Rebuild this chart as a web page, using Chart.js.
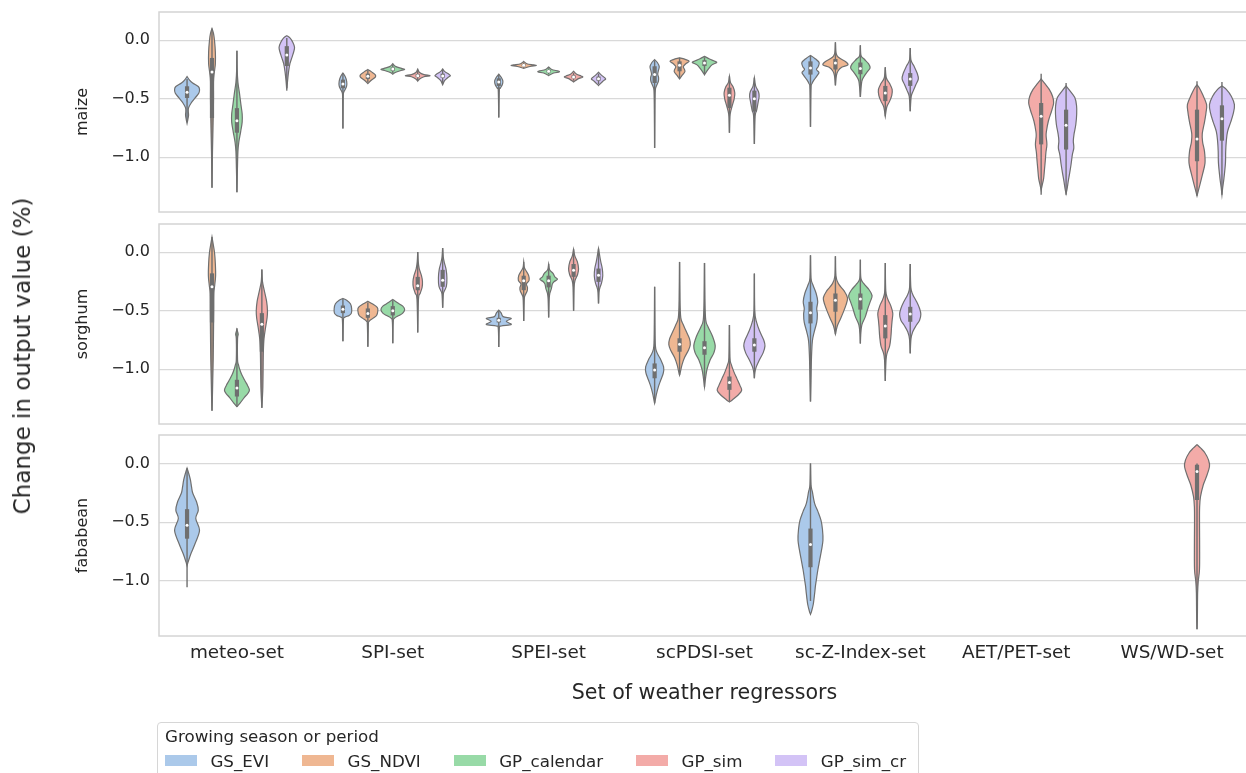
<!DOCTYPE html>
<html>
<head>
<meta charset="utf-8">
<script src="https://cdn.jsdelivr.net/npm/chart.js@4.4.1/dist/chart.umd.min.js"></script>
<style>
  html, body { margin: 0; padding: 0; background: #fff; }
  #page { position: relative; width: 1246px; height: 773px; overflow: hidden; font-family: "DejaVu Sans", sans-serif; color: #262626; }
  #page canvas { position: absolute; left: 0; }
  #ytitle { position: absolute; left: 22px; top: 356px; transform: translate(-50%, -50%) rotate(-90deg); font-size: 23px; white-space: nowrap; }
  #legend { position: absolute; left: 157px; top: 722px; width: 762px; height: 70px; border: 1px solid #d6d6d6; border-radius: 4px; box-sizing: border-box; font-size: 16.7px; }
  #legend .ltitle { position: absolute; left: 7px; top: 3px; line-height: 20px; white-space: nowrap; }
  #legend .lrow { position: absolute; left: 7px; top: 27.7px; display: flex; align-items: center; line-height: 20px; white-space: nowrap; }
  #legend .item { display: flex; align-items: center; margin-right: 33px; }
  #legend .sw { width: 32px; height: 11px; margin-right: 13.4px; }
</style>
</head>
<body>
<div id="page">
  <canvas id="maize" width="1252" height="214" style="top:0px"></canvas>
  <canvas id="sorghum" width="1252" height="212" style="top:214px"></canvas>
  <canvas id="fababean" width="1252" height="300" style="top:426px"></canvas>
  <div id="ytitle">Change in output value (%)</div>
  <div id="legend">
    <div class="ltitle">Growing season or period</div>
    <div class="lrow" id="lrow"></div>
  </div>
</div>
<script>
const sets = ['meteo-set', 'SPI-set', 'SPEI-set', 'scPDSI-set', 'sc-Z-Index-set', 'AET/PET-set', 'WS/WD-set'];
const periods = ['GS_EVI', 'GS_NDVI', 'GP_calendar', 'GP_sim', 'GP_sim_cr'];
const colors = ['#abc9ea', '#efb792', '#98daa7', '#f3aba8', '#d3c3f6'];
const yTicks = [0, -0.5, -1.0];
const yMin = -1.468, yMax = 0.242;

// [set, period, [whisker low, q1, median, q3, whisker high], outline [value, relative half width] top -> bottom]
const maizeViolins = [
  ['meteo-set', 'GS_EVI', [-0.70, -0.493, -0.445, -0.393, -0.33], [[-0.31,0],[-0.34,0.2],[-0.365,0.45],[-0.395,0.9],[-0.42,1.0],[-0.45,0.95],[-0.493,0.65],[-0.536,0.33],[-0.578,0.12],[-0.61,0.1],[-0.64,0.12],[-0.68,0.06],[-0.71,0]]],
  ['meteo-set', 'GS_NDVI', [-1.26, -0.664, -0.27, -0.151, 0.1], [[0.1,0],[0.06,0.12],[0.0,0.2],[-0.1,0.27],[-0.2,0.27],[-0.28,0.18],[-0.35,0.12],[-0.5,0.12],[-0.65,0.1],[-0.8,0.07],[-0.95,0.04],[-1.1,0.02],[-1.26,0]]],
  ['meteo-set', 'GP_calendar', [-1.3, -0.79, -0.687, -0.58, -0.09], [[-0.09,0],[-0.25,0.02],[-0.36,0.08],[-0.45,0.2],[-0.55,0.32],[-0.63,0.42],[-0.7,0.42],[-0.78,0.3],[-0.87,0.15],[-0.95,0.08],[-1.1,0.04],[-1.3,0]]],
  ['meteo-set', 'GP_sim_cr', [-0.41, -0.22, -0.125, -0.05, 0.02], [[0.04,0],[0.02,0.25],[-0.02,0.5],[-0.06,0.62],[-0.1,0.55],[-0.15,0.4],[-0.2,0.25],[-0.27,0.14],[-0.35,0.06],[-0.43,0]]],
  ['SPI-set', 'GS_EVI', [-0.755, -0.41, -0.373, -0.336, -0.28], [[-0.28,0],[-0.31,0.18],[-0.35,0.3],[-0.39,0.3],[-0.42,0.18],[-0.45,0.05],[-0.5,0.02],[-0.755,0]]],
  ['SPI-set', 'GS_NDVI', [-0.36, -0.33, -0.308, -0.285, -0.255], [[-0.25,0],[-0.27,0.3],[-0.295,0.6],[-0.315,0.6],[-0.34,0.3],[-0.37,0]]],
  ['SPI-set', 'GP_calendar', [-0.28, -0.26, -0.245, -0.232, -0.21], [[-0.2,0],[-0.225,0.25],[-0.24,0.7],[-0.25,0.95],[-0.26,0.6],[-0.275,0.2],[-0.29,0]]],
  ['SPI-set', 'GP_sim', [-0.34, -0.315, -0.302, -0.29, -0.26], [[-0.245,0],[-0.275,0.15],[-0.293,0.5],[-0.302,1.0],[-0.312,0.5],[-0.33,0.15],[-0.35,0]]],
  ['SPI-set', 'GP_sim_cr', [-0.37, -0.32, -0.305, -0.285, -0.25], [[-0.245,0],[-0.27,0.2],[-0.29,0.5],[-0.303,0.62],[-0.32,0.4],[-0.345,0.15],[-0.38,0]]],
  ['SPEI-set', 'GS_EVI', [-0.66, -0.39, -0.356, -0.325, -0.29], [[-0.29,0],[-0.32,0.22],[-0.35,0.33],[-0.38,0.28],[-0.41,0.12],[-0.43,0.04],[-0.66,0]]],
  ['SPEI-set', 'GS_NDVI', [-0.235, -0.222, -0.214, -0.205, -0.19], [[-0.18,0],[-0.2,0.25],[-0.21,0.8],[-0.216,1.0],[-0.224,0.5],[-0.24,0]]],
  ['SPEI-set', 'GP_calendar', [-0.29, -0.275, -0.265, -0.255, -0.24], [[-0.228,0],[-0.25,0.25],[-0.262,0.75],[-0.27,0.85],[-0.28,0.4],[-0.302,0]]],
  ['SPEI-set', 'GP_sim', [-0.345, -0.325, -0.313, -0.3, -0.28], [[-0.265,0],[-0.29,0.25],[-0.305,0.6],[-0.315,0.73],[-0.33,0.35],[-0.356,0]]],
  ['SPEI-set', 'GP_sim_cr', [-0.375, -0.345, -0.328, -0.31, -0.285], [[-0.273,0],[-0.3,0.25],[-0.32,0.5],[-0.332,0.57],[-0.35,0.35],[-0.387,0]]],
  ['scPDSI-set', 'GS_EVI', [-0.92, -0.365, -0.293, -0.222, -0.17], [[-0.165,0],[-0.19,0.22],[-0.225,0.37],[-0.26,0.3],[-0.29,0.25],[-0.32,0.32],[-0.35,0.3],[-0.39,0.15],[-0.43,0.05],[-0.6,0.02],[-0.92,0]]],
  ['scPDSI-set', 'GS_NDVI', [-0.33, -0.265, -0.214, -0.18, -0.15], [[-0.15,0],[-0.165,0.5],[-0.18,0.77],[-0.2,0.5],[-0.225,0.3],[-0.25,0.4],[-0.27,0.42],[-0.3,0.2],[-0.33,0]]],
  ['scPDSI-set', 'GP_calendar', [-0.29, -0.22, -0.194, -0.17, -0.145], [[-0.137,0],[-0.16,0.4],[-0.18,0.85],[-0.19,0.97],[-0.21,0.6],[-0.24,0.35],[-0.27,0.15],[-0.295,0]]],
  ['scPDSI-set', 'GP_sim', [-0.79, -0.58, -0.47, -0.405, -0.308], [[-0.308,0],[-0.36,0.08],[-0.4,0.3],[-0.45,0.43],[-0.5,0.38],[-0.55,0.25],[-0.6,0.12],[-0.65,0.04],[-0.79,0]]],
  ['scPDSI-set', 'GP_sim_cr', [-0.886, -0.61, -0.5, -0.43, -0.32], [[-0.32,0],[-0.39,0.1],[-0.44,0.33],[-0.48,0.38],[-0.53,0.3],[-0.6,0.18],[-0.65,0.06],[-0.886,0]]],
  ['sc-Z-Index-set', 'GS_EVI', [-0.74, -0.293, -0.236, -0.18, -0.13], [[-0.13,0],[-0.155,0.35],[-0.19,0.69],[-0.225,0.62],[-0.25,0.48],[-0.275,0.68],[-0.3,0.55],[-0.336,0.3],[-0.37,0.12],[-0.42,0.04],[-0.74,0]]],
  ['sc-Z-Index-set', 'GS_NDVI', [-0.385, -0.25, -0.194, -0.16, -0.017], [[-0.017,0],[-0.1,0.04],[-0.135,0.15],[-0.16,0.45],[-0.185,0.85],[-0.21,1.0],[-0.23,0.5],[-0.26,0.22],[-0.3,0.08],[-0.385,0]]],
  ['sc-Z-Index-set', 'GP_calendar', [-0.484, -0.29, -0.242, -0.19, -0.043], [[-0.043,0],[-0.13,0.05],[-0.16,0.3],[-0.2,0.65],[-0.235,0.78],[-0.27,0.55],[-0.3,0.35],[-0.35,0.12],[-0.484,0]]],
  ['sc-Z-Index-set', 'GP_sim', [-0.65, -0.52, -0.45, -0.39, -0.23], [[-0.23,0],[-0.32,0.08],[-0.37,0.35],[-0.42,0.55],[-0.47,0.52],[-0.52,0.35],[-0.57,0.12],[-0.65,0]]],
  ['sc-Z-Index-set', 'GP_sim_cr', [-0.607, -0.39, -0.33, -0.28, -0.066], [[-0.066,0],[-0.17,0.06],[-0.22,0.3],[-0.28,0.55],[-0.33,0.65],[-0.38,0.45],[-0.43,0.25],[-0.48,0.08],[-0.607,0]]],
  ['AET/PET-set', 'GP_sim', [-1.32, -0.89, -0.65, -0.536, -0.285], [[-0.33,0],[-0.37,0.3],[-0.42,0.65],[-0.48,0.92],[-0.536,1.0],[-0.6,0.85],[-0.69,0.58],[-0.78,0.42],[-0.82,0.4],[-0.89,0.46],[-0.96,0.38],[-1.03,0.33],[-1.1,0.27],[-1.18,0.2],[-1.24,0.08],[-1.28,0]]],
  ['AET/PET-set', 'GP_sim_cr', [-1.32, -0.934, -0.726, -0.593, -0.365], [[-0.39,0],[-0.43,0.3],[-0.49,0.7],[-0.56,0.84],[-0.63,0.85],[-0.72,0.78],[-0.8,0.64],[-0.86,0.58],[-0.92,0.62],[-0.98,0.5],[-1.06,0.4],[-1.14,0.28],[-1.2,0.18],[-1.27,0.08],[-1.31,0]]],
  ['WS/WD-set', 'GP_sim', [-1.33, -1.034, -0.843, -0.593, -0.35], [[-0.38,0],[-0.41,0.2],[-0.464,0.45],[-0.55,0.77],[-0.62,0.72],[-0.7,0.6],[-0.8,0.42],[-0.87,0.45],[-0.95,0.6],[-1.05,0.64],[-1.15,0.43],[-1.26,0.17],[-1.33,0]]],
  ['WS/WD-set', 'GP_sim_cr', [-1.32, -0.858, -0.67, -0.556, -0.356], [[-0.39,0],[-0.42,0.35],[-0.48,0.76],[-0.55,1.0],[-0.62,0.92],[-0.7,0.7],[-0.78,0.45],[-0.86,0.35],[-0.95,0.3],[-1.05,0.28],[-1.18,0.16],[-1.26,0.06],[-1.32,0]]]
];

const sorghumViolins = [
  ['meteo-set', 'GS_NDVI', [-1.355, -0.6, -0.295, -0.18, 0.13], [[0.13,0],[0.08,0.08],[0.0,0.2],[-0.1,0.27],[-0.2,0.29],[-0.28,0.22],[-0.35,0.15],[-0.5,0.14],[-0.7,0.12],[-0.9,0.1],[-1.1,0.06],[-1.25,0.03],[-1.355,0]]],
  ['meteo-set', 'GP_calendar', [-1.318, -1.233, -1.16, -1.09, -0.65], [[-0.66,0],[-0.7,0.1],[-0.74,0.05],[-0.92,0.05],[-0.96,0.12],[-1.0,0.22],[-1.05,0.4],[-1.1,0.65],[-1.14,0.86],[-1.18,1.0],[-1.21,0.85],[-1.24,0.6],[-1.29,0.25],[-1.32,0]]],
  ['meteo-set', 'GP_sim', [-1.33, -0.85, -0.616, -0.52, -0.148], [[-0.148,0],[-0.25,0.05],[-0.33,0.2],[-0.42,0.38],[-0.5,0.45],[-0.56,0.42],[-0.64,0.3],[-0.74,0.17],[-0.85,0.12],[-1.0,0.1],[-1.15,0.08],[-1.25,0.04],[-1.33,0]]],
  ['SPI-set', 'GS_EVI', [-0.76, -0.52, -0.486, -0.455, -0.4], [[-0.395,0],[-0.41,0.3],[-0.44,0.6],[-0.48,0.7],[-0.52,0.68],[-0.54,0.5],[-0.555,0.15],[-0.58,0.04],[-0.76,0]]],
  ['SPI-set', 'GS_NDVI', [-0.807, -0.56, -0.523, -0.48, -0.43], [[-0.418,0],[-0.44,0.35],[-0.47,0.75],[-0.5,0.8],[-0.54,0.7],[-0.565,0.4],[-0.59,0.1],[-0.62,0.04],[-0.807,0]]],
  ['SPI-set', 'GP_calendar', [-0.778, -0.54, -0.5, -0.46, -0.41], [[-0.403,0],[-0.43,0.35],[-0.46,0.8],[-0.49,0.95],[-0.52,0.8],[-0.54,0.5],[-0.565,0.12],[-0.6,0.03],[-0.778,0]]],
  ['SPI-set', 'GP_sim', [-0.685, -0.325, -0.287, -0.21, 0.003], [[0.003,0],[-0.08,0.04],[-0.14,0.12],[-0.2,0.3],[-0.25,0.38],[-0.3,0.35],[-0.35,0.2],[-0.4,0.06],[-0.685,0]]],
  ['SPI-set', 'GP_sim_cr', [-0.474, -0.295, -0.239, -0.15, 0.037], [[0.037,0],[-0.04,0.05],[-0.09,0.14],[-0.15,0.28],[-0.22,0.34],[-0.29,0.3],[-0.33,0.14],[-0.36,0.05],[-0.474,0]]],
  ['SPEI-set', 'GS_EVI', [-0.81, -0.6, -0.58, -0.56, -0.5], [[-0.494,0],[-0.52,0.2],[-0.55,0.35],[-0.565,1.0],[-0.59,0.6],[-0.617,1.0],[-0.63,0.2],[-0.65,0.04],[-0.81,0]]],
  ['SPEI-set', 'GS_NDVI', [-0.588, -0.324, -0.244, -0.2, -0.082], [[-0.082,0],[-0.13,0.05],[-0.16,0.2],[-0.2,0.4],[-0.24,0.43],[-0.27,0.22],[-0.3,0.3],[-0.33,0.28],[-0.37,0.1],[-0.41,0.04],[-0.588,0]]],
  ['SPEI-set', 'GP_calendar', [-0.557, -0.3, -0.244, -0.2, -0.1], [[-0.1,0],[-0.15,0.08],[-0.18,0.35],[-0.21,0.5],[-0.23,0.71],[-0.25,0.45],[-0.27,0.3],[-0.31,0.22],[-0.35,0.1],[-0.4,0.04],[-0.557,0]]],
  ['SPEI-set', 'GP_sim', [-0.5, -0.21, -0.153, -0.1, 0.026], [[0.026,0],[-0.03,0.1],[-0.08,0.3],[-0.14,0.4],[-0.19,0.32],[-0.24,0.12],[-0.3,0.04],[-0.5,0]]],
  ['SPEI-set', 'GP_sim_cr', [-0.437, -0.253, -0.196, -0.139, 0.031], [[0.031,0],[-0.02,0.08],[-0.08,0.18],[-0.14,0.3],[-0.2,0.34],[-0.26,0.25],[-0.3,0.12],[-0.34,0.04],[-0.437,0]]],
  ['scPDSI-set', 'GS_EVI', [-1.29, -1.077, -1.006, -0.95, -0.295], [[-0.295,0],[-0.6,0.02],[-0.8,0.06],[-0.86,0.2],[-0.92,0.5],[-0.98,0.72],[-1.03,0.7],[-1.09,0.5],[-1.15,0.3],[-1.21,0.15],[-1.27,0.04],[-1.29,0]]],
  ['scPDSI-set', 'GS_NDVI', [-1.05, -0.85, -0.787, -0.735, -0.082], [[-0.082,0],[-0.4,0.03],[-0.56,0.1],[-0.62,0.3],[-0.68,0.55],[-0.74,0.8],[-0.79,0.86],[-0.84,0.7],[-0.9,0.4],[-0.96,0.2],[-1.02,0.07],[-1.05,0]]],
  ['scPDSI-set', 'GP_calendar', [-1.15, -0.876, -0.815, -0.76, -0.091], [[-0.091,0],[-0.4,0.03],[-0.58,0.1],[-0.64,0.3],[-0.72,0.65],[-0.8,0.86],[-0.86,0.75],[-0.92,0.45],[-1.0,0.2],[-1.08,0.08],[-1.15,0]]],
  ['scPDSI-set', 'GP_sim', [-1.276, -1.176, -1.114, -1.062, -0.622], [[-0.622,0],[-0.9,0.04],[-0.96,0.15],[-1.02,0.35],[-1.08,0.6],[-1.14,0.85],[-1.18,0.98],[-1.22,0.7],[-1.26,0.25],[-1.28,0]]],
  ['scPDSI-set', 'GP_sim_cr', [-1.077, -0.85, -0.793, -0.735, -0.182], [[-0.182,0],[-0.5,0.03],[-0.6,0.18],[-0.68,0.45],[-0.75,0.75],[-0.8,0.85],[-0.86,0.7],[-0.92,0.4],[-0.98,0.15],[-1.03,0.04],[-1.077,0]]],
  ['sc-Z-Index-set', 'GS_EVI', [-1.276, -0.608, -0.517, -0.423, -0.026], [[-0.026,0],[-0.22,0.04],[-0.28,0.2],[-0.35,0.45],[-0.42,0.58],[-0.48,0.5],[-0.53,0.55],[-0.6,0.5],[-0.68,0.3],[-0.76,0.15],[-0.9,0.08],[-1.1,0.04],[-1.276,0]]],
  ['sc-Z-Index-set', 'GS_NDVI', [-0.7, -0.508, -0.41, -0.352, -0.034], [[-0.034,0],[-0.2,0.04],[-0.27,0.25],[-0.33,0.7],[-0.39,0.97],[-0.45,0.85],[-0.52,0.6],[-0.57,0.4],[-0.63,0.15],[-0.7,0]]],
  ['sc-Z-Index-set', 'GP_calendar', [-0.78, -0.49, -0.4, -0.352, -0.063], [[-0.063,0],[-0.22,0.04],[-0.27,0.3],[-0.32,0.7],[-0.37,0.94],[-0.42,0.8],[-0.48,0.6],[-0.55,0.4],[-0.62,0.12],[-0.7,0.03],[-0.78,0]]],
  ['sc-Z-Index-set', 'GP_sim', [-1.1, -0.736, -0.63, -0.537, -0.091], [[-0.091,0],[-0.33,0.04],[-0.4,0.2],[-0.46,0.45],[-0.52,0.6],[-0.58,0.55],[-0.64,0.5],[-0.72,0.45],[-0.8,0.35],[-0.86,0.15],[-0.92,0.06],[-1.1,0]]],
  ['sc-Z-Index-set', 'GP_sim_cr', [-0.864, -0.594, -0.528, -0.466, -0.1], [[-0.1,0],[-0.3,0.05],[-0.36,0.2],[-0.42,0.5],[-0.48,0.75],[-0.53,0.85],[-0.58,0.75],[-0.63,0.45],[-0.68,0.2],[-0.74,0.06],[-0.864,0]]]
];

const fababeanViolins = [
  ['meteo-set', 'GS_EVI', [-1.054, -0.64, -0.526, -0.389, -0.04], [[-0.04,0],[-0.08,0.12],[-0.14,0.27],[-0.2,0.36],[-0.254,0.46],[-0.326,0.76],[-0.397,0.9],[-0.469,0.7],[-0.569,1.0],[-0.683,0.64],[-0.77,0.3],[-0.84,0.08],[-0.87,0]]],
  ['sc-Z-Index-set', 'GS_EVI', [-1.17, -0.883, -0.69, -0.554, 0.0], [[0.0,0],[-0.18,0.04],[-0.24,0.15],[-0.34,0.33],[-0.41,0.6],[-0.483,0.84],[-0.56,0.96],[-0.654,1.0],[-0.74,0.88],[-0.826,0.73],[-0.9,0.6],[-0.969,0.5],[-1.04,0.4],[-1.11,0.33],[-1.2,0.22],[-1.26,0.08],[-1.283,0]]],
  ['WS/WD-set', 'GP_sim', [-1.41, -0.311, -0.069, -0.011, 0.0], [[0.16,0],[0.13,0.3],[0.089,0.64],[0.03,0.92],[-0.026,1.0],[-0.111,0.76],[-0.183,0.5],[-0.283,0.28],[-0.37,0.21],[-0.5,0.2],[-0.7,0.21],[-0.9,0.2],[-1.0,0.1],[-1.1,0.05],[-1.3,0.03],[-1.41,0]]]
];

const gray = '#6f6f6f';
const gridColor = '#d9d9d9';

// smooth curve through points (catmull-rom)
function curveThrough(ctx, p) {
  for (let i = 0; i < p.length - 1; i++) {
    const p0 = p[Math.max(i - 1, 0)], p1 = p[i], p2 = p[i + 1], p3 = p[Math.min(i + 2, p.length - 1)];
    ctx.bezierCurveTo(
      p1[0] + (p2[0] - p0[0]) / 6, p1[1] + (p2[1] - p0[1]) / 6,
      p2[0] - (p3[0] - p1[0]) / 6, p2[1] - (p3[1] - p1[1]) / 6,
      p2[0], p2[1]);
  }
}

function violinPlugin(rows) {
  return {
    id: 'violins',
    beforeDatasetsDraw(chart) {
      const a = chart.chartArea, ctx = chart.ctx;
      ctx.save();
      ctx.strokeStyle = '#d4d4d4';
      ctx.lineWidth = 1.5;
      ctx.strokeRect(a.left, a.top, a.right - a.left, a.bottom - a.top);
      ctx.restore();
    },
    afterDatasetsDraw(chart) {
      const ctx = chart.ctx, y = chart.scales.y;
      ctx.save();
      rows.forEach(r => {
        const g = periods.indexOf(r[1]);
        const bar = chart.getDatasetMeta(g).data[sets.indexOf(r[0])];
        const cx = bar.x, half = bar.width / 2;
        const right = r[3].map(([v, w]) => [cx + w * half, y.getPixelForValue(v)]);
        const left = r[3].map(([v, w]) => [cx - w * half, y.getPixelForValue(v)]).reverse();
        ctx.beginPath();
        ctx.moveTo(right[0][0], right[0][1]);
        curveThrough(ctx, right);
        curveThrough(ctx, left);
        ctx.closePath();
        ctx.fillStyle = colors[g];
        ctx.fill();
        ctx.strokeStyle = gray;
        ctx.lineWidth = 1.2;
        ctx.stroke();

        const [lo, q1, med, q3, hi] = r[2];
        ctx.lineCap = 'butt';
        ctx.beginPath();
        ctx.moveTo(cx, y.getPixelForValue(lo));
        ctx.lineTo(cx, y.getPixelForValue(hi));
        ctx.lineWidth = 1.4;
        ctx.stroke();
        ctx.beginPath();
        ctx.moveTo(cx, y.getPixelForValue(q1));
        ctx.lineTo(cx, y.getPixelForValue(q3));
        ctx.lineWidth = 4.2;
        ctx.stroke();
        ctx.beginPath();
        ctx.arc(cx, y.getPixelForValue(med), 1.5, 0, Math.PI * 2);
        ctx.fillStyle = '#ffffff';
        ctx.fill();
      });
      ctx.restore();
    }
  };
}

function makeChart(id, rows, showX, padding) {
  const datasets = periods.map(p => ({
    label: p,
    data: sets.map(s => {
      const r = rows.find(r => r[0] === s && r[1] === p);
      return r ? [Math.min(r[2][0], r[3][r[3].length - 1][0]), Math.max(r[2][4], r[3][0][0])] : null;
    }),
    backgroundColor: 'rgba(0,0,0,0)',
    borderWidth: 0,
    categoryPercentage: 0.8,
    barPercentage: 1.0
  }));

  const x = {
    display: showX,
    grid: { display: false },
    border: { display: false },
    ticks: { color: '#262626', font: { family: 'DejaVu Sans', size: 18.4 }, padding: -2, maxRotation: 0, autoSkip: false },
    title: { display: true, text: 'Set of weather regressors', color: '#262626', font: { family: 'DejaVu Sans', size: 20.6 }, padding: { top: 0, bottom: 19.6 } }
  };
  if (showX) x.afterFit = s => { s.height = 90; s.paddingLeft = 0; s.paddingRight = 0; };

  new Chart(document.getElementById(id), {
    type: 'bar',
    data: { labels: sets, datasets: datasets },
    options: {
      responsive: false,
      animation: false,
      layout: { padding: padding },
      plugins: { legend: { display: false }, tooltip: { enabled: false } },
      scales: {
        x: x,
        y: {
          min: yMin,
          max: yMax,
          afterBuildTicks: s => { s.ticks = yTicks.map(v => ({ value: v })); },
          afterFit: s => { s.width = 159; s.paddingTop = 0; s.paddingBottom = 0; },
          grid: { color: gridColor, lineWidth: 1.2, drawTicks: false },
          border: { display: false },
          ticks: {
            color: '#262626',
            font: { family: 'DejaVu Sans', size: 16 },
            padding: 9,
            callback: v => v.toFixed(1).replace('-', '\u2212')
          },
          title: { display: true, text: id, color: '#262626', font: { family: 'DejaVu Sans', size: 16 }, padding: { top: 73.4, bottom: 0 } }
        }
      }
    },
    plugins: [violinPlugin(rows)]
  });
}

makeChart('maize', maizeViolins, false, { top: 12, bottom: 2, left: 0, right: 2 });
makeChart('sorghum', sorghumViolins, false, { top: 10, bottom: 2, left: 0, right: 2 });
makeChart('fababean', fababeanViolins, true, { top: 9, bottom: 0, left: 0, right: 2 });

// legend
const lrow = document.getElementById('lrow');
periods.forEach((p, i) => {
  const item = document.createElement('div');
  item.className = 'item';
  const sw = document.createElement('div');
  sw.className = 'sw';
  sw.style.background = colors[i];
  const t = document.createElement('span');
  t.textContent = p;
  item.appendChild(sw);
  item.appendChild(t);
  lrow.appendChild(item);
});
</script>
</body>
</html>
